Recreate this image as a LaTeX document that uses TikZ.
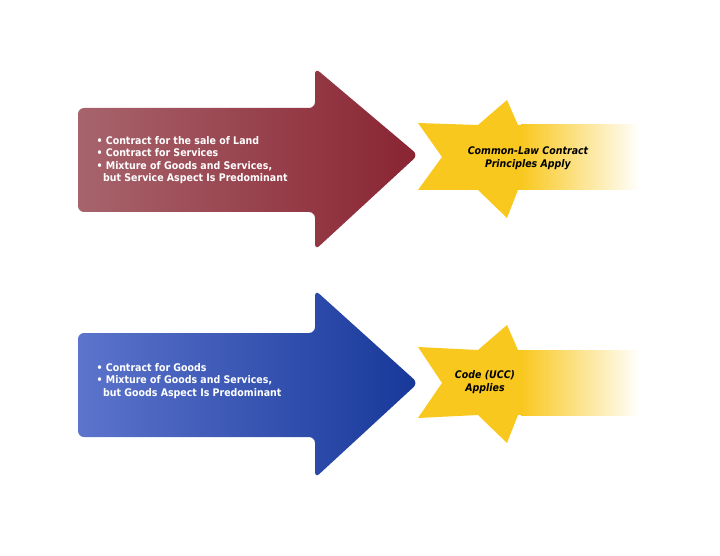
\documentclass[tikz,border=0pt]{standalone}
\usepackage{fontspec}
\setmainfont{DejaVu Sans Condensed}
\usetikzlibrary{positioning}
\definecolor{redL}{HTML}{A7646C}
\definecolor{redD}{HTML}{8A2432}
\definecolor{blueL}{HTML}{5C74CC}
\definecolor{blueD}{HTML}{17389A}
\definecolor{starY}{HTML}{F9C81E}
\tikzset{
  listtext/.style={text=white,font=\bfseries\fontsize{10.5}{12.5}\selectfont,align=left,anchor=west},
  startext/.style={text=black,font=\bfseries\itshape\fontsize{10.5}{12.5}\selectfont,align=center},
}
\begin{document}
\begin{tikzpicture}[x=1pt,y=-1pt]
		\useasboundingbox (0,0) rectangle (720,556);
		% upper arrow
		\shade[left color=redL,right color=redD,rounded corners=6]
			(78,108) -- (315,108) -- (315,68) -- (418,155) -- (315,250) -- (315,212) -- (78,212) -- cycle;
		\node[listtext] (land) at (93,160) {• Contract for the sale of Land\\• Contract for Services\\• Mixture of Goods and Services,\\\ \ but Service Aspect Is Predominant};
		% upper star
		\fill[starY] (418,123) -- (478,125) -- (507,100) -- (518,125) -- (522,125) -- (522,190)
			-- (518,190) -- (507,218) -- (478,190) -- (418,190) -- (442,157) -- cycle;
		\shade[left color=starY,right color=white] (521,125) rectangle (640,190);
		\node[startext] (common) at (528,158) {Common-Law Contract\\Principles Apply};
		% lower arrow
		\shade[left color=blueL,right color=blueD,rounded corners=6]
			(78,333) -- (315,333) -- (315,290) -- (418,383) -- (315,478) -- (315,437) -- (78,437) -- cycle;
		\node[listtext] (goods) at (93,381) {• Contract for Goods\\• Mixture of Goods and Services,\\\ \ but Goods Aspect Is Predominant};
		% lower star
		\fill[starY] (418,347) -- (478,350) -- (507,325) -- (518,350) -- (522,350) -- (522,415)
			-- (518,415) -- (507,443) -- (478,415) -- (418,418) -- (442,383) -- cycle;
		\shade[left color=starY,right color=white] (521,350) rectangle (640,415);
		\node[startext] (code) at (485,382) {Code (UCC)\\Applies};
	\end{tikzpicture}
\end{document}
